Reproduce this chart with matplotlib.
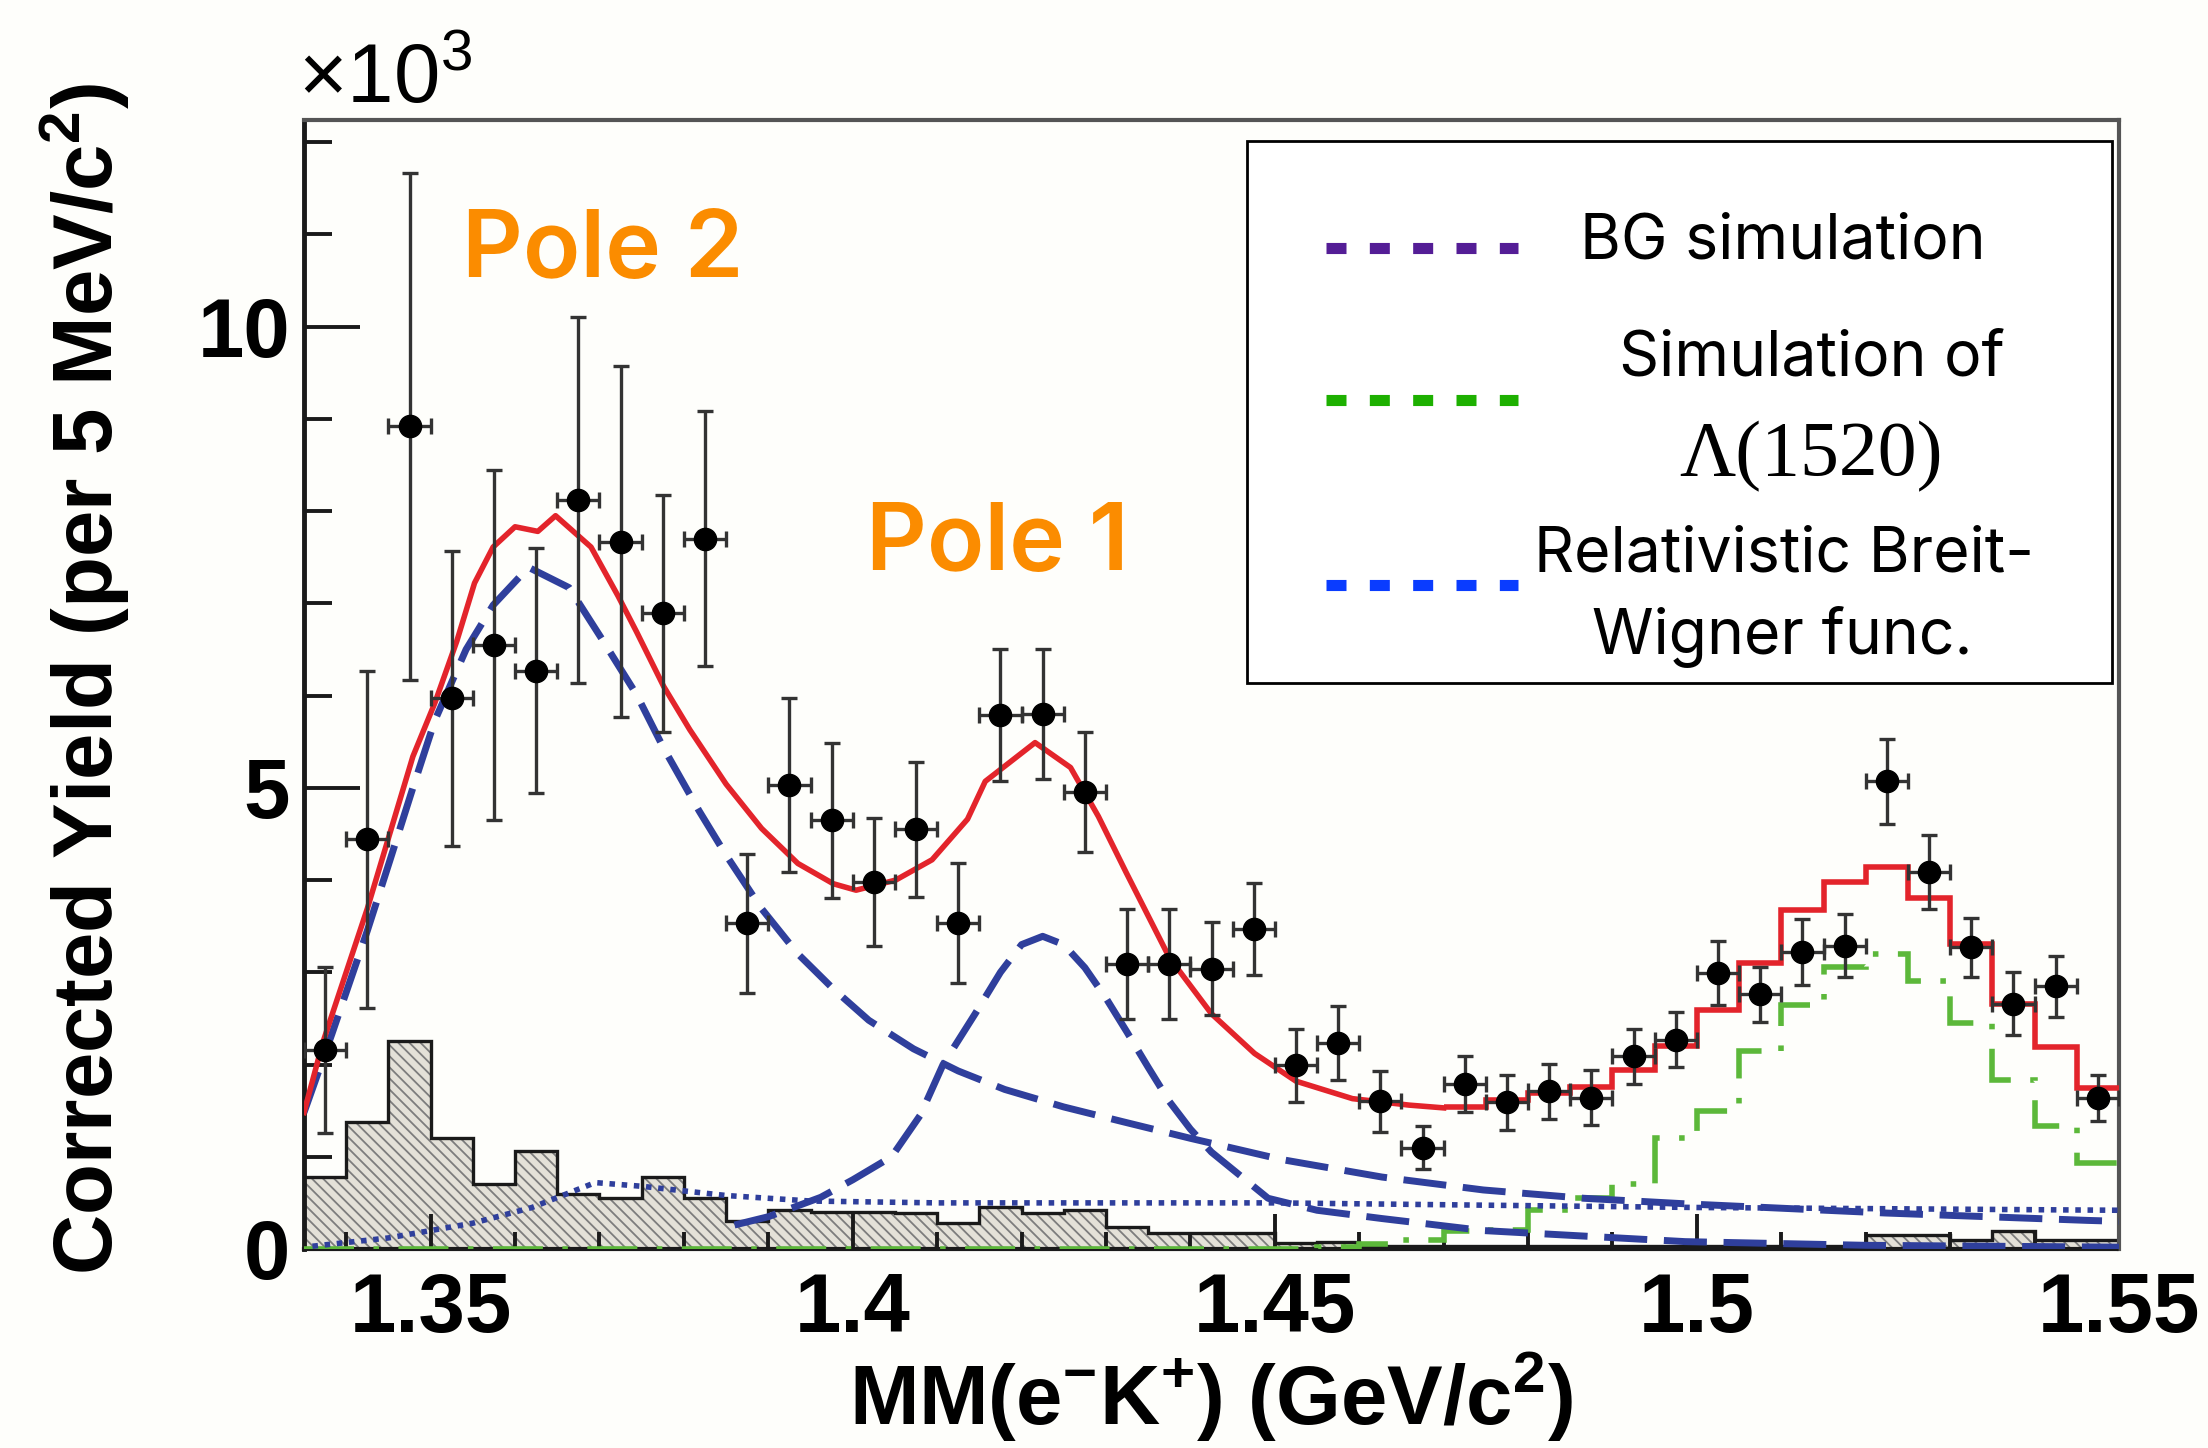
import numpy as np
import matplotlib
matplotlib.use("Agg")
import matplotlib.pyplot as plt
from matplotlib.patches import Rectangle

# binning (5 MeV bins)
bin_lo = 1.335
bin_width = 0.005
n_bins = 43

# measured yield (x10^3) per bin and its error
yield_vals = [2.16, 4.44, 8.92, 5.97, 6.55, 6.27, 8.12, 7.67, 6.89, 7.70,
              3.53, 5.03, 4.65, 3.98, 4.55, 3.53, 5.79, 5.80, 4.95, 3.09,
              3.09, 3.04, 3.47, 1.99, 2.23, 1.60, 1.10, 1.79, 1.59, 1.71,
              1.64, 2.09, 2.27, 2.99, 2.76, 3.22, 3.29, 5.07, 4.09, 3.27,
              2.66, 2.85, 1.64]
yield_err = [0.90, 1.83, 2.75, 1.60, 1.90, 1.33, 1.98, 1.90, 1.28, 1.38,
             0.75, 0.94, 0.84, 0.69, 0.73, 0.65, 0.72, 0.70, 0.65, 0.60,
             0.60, 0.50, 0.50, 0.40, 0.40, 0.33, 0.23, 0.30, 0.30, 0.30,
             0.30, 0.30, 0.30, 0.35, 0.30, 0.36, 0.34, 0.46, 0.40, 0.32,
             0.34, 0.33, 0.25]

# hatched background histogram
bg_hist = [0.78, 1.38, 2.25, 1.20, 0.71, 1.06, 0.60, 0.55, 0.78, 0.55,
           0.30, 0.42, 0.40, 0.40, 0.39, 0.28, 0.46, 0.39, 0.42, 0.24,
           0.17, 0.17, 0.17, 0.06, 0.08, 0.03, 0.03, 0.03, 0.03, 0.03,
           0.03, 0.03, 0.03, 0.03, 0.03, 0.03, 0.03, 0.15, 0.15, 0.10,
           0.20, 0.10, 0.10]

# Lambda(1520) simulation histogram
lam_hist = [0, 0, 0, 0, 0, 0, 0, 0, 0, 0,
            0, 0, 0, 0, 0, 0, 0, 0, 0, 0,
            0, 0, 0, 0.0, 0.02, 0.05, 0.10, 0.20, 0.21, 0.42,
            0.55, 0.71, 1.20, 1.50, 2.15, 2.65, 3.06, 3.20, 2.91, 2.45,
            1.83, 1.33, 0.93]

# total fit: smooth part then steps (bins 27..42)
total_x = [1.335, 1.3372, 1.3425, 1.3479, 1.3505, 1.3531, 1.3552, 1.3574,
           1.360, 1.3627, 1.3648, 1.369, 1.3722, 1.3744, 1.3776, 1.3807,
           1.385, 1.3892, 1.3935, 1.3977, 1.4004, 1.4051, 1.4094, 1.4136,
           1.4157, 1.4216, 1.4258, 1.4291, 1.4324, 1.4375, 1.4425, 1.4476,
           1.4525, 1.4592, 1.4659, 1.470]
total_y = [1.48, 2.23, 3.69, 5.34, 5.92, 6.59, 7.22, 7.61,
           7.83, 7.78, 7.95, 7.61, 7.08, 6.69, 6.10, 5.63,
           5.04, 4.56, 4.18, 3.96, 3.89, 4.00, 4.22, 4.66,
           5.07, 5.49, 5.22, 4.69, 4.08, 3.16, 2.55, 2.12,
           1.82, 1.63, 1.56, 1.53]
total_step_first_bin = 27
total_steps = [1.54, 1.62, 1.69, 1.76, 1.94, 2.20, 2.59, 3.10, 3.67, 3.98,
               4.14, 3.81, 3.31, 2.66, 2.19, 1.75]

# Breit-Wigner, pole 2
pole2_x = [1.335, 1.3383, 1.3425, 1.3452, 1.3479, 1.3505, 1.3542, 1.3574,
           1.3616, 1.3664, 1.3701, 1.3744, 1.3776, 1.3818, 1.385, 1.3892,
           1.3935, 1.3977, 1.4019, 1.4072, 1.4125, 1.418, 1.425, 1.432,
           1.440, 1.4508, 1.4627, 1.4747, 1.4866, 1.4986, 1.5105, 1.5224,
           1.5344, 1.5463, 1.55]
pole2_y = [1.48, 2.33, 3.45, 4.22, 5.00, 5.73, 6.50, 6.98,
           7.39, 7.17, 6.64, 6.01, 5.43, 4.75, 4.27, 3.69,
           3.20, 2.82, 2.48, 2.17, 1.93, 1.73, 1.54, 1.38,
           1.20, 0.97, 0.78, 0.64, 0.55, 0.49, 0.44, 0.39,
           0.35, 0.31, 0.30]

# Breit-Wigner, pole 1
pole1_x = [1.386, 1.390, 1.3962, 1.400, 1.4046, 1.408, 1.4107,
           1.4145, 1.4175, 1.420, 1.4225, 1.425, 1.4275, 1.430, 1.4325,
           1.435, 1.4375, 1.440, 1.4425, 1.4492, 1.455, 1.4627, 1.4747,
           1.4986, 1.520, 1.550]
pole1_y = [0.26, 0.35, 0.56, 0.75, 1.00, 1.45, 2.00,
           2.55, 3.00, 3.30, 3.39, 3.30, 3.05, 2.72, 2.35,
           1.97, 1.60, 1.30, 1.05, 0.55, 0.42, 0.33, 0.20,
           0.08, 0.04, 0.02]

# background simulation curve
bgsim_x = [1.336, 1.345, 1.355, 1.362, 1.3695, 1.375, 1.385, 1.395,
           1.410, 1.450, 1.500, 1.550]
bgsim_y = [0.03, 0.12, 0.28, 0.45, 0.72, 0.68, 0.58, 0.52,
           0.50, 0.50, 0.45, 0.42]

x_ticks = [1.35, 1.40, 1.45, 1.50, 1.55]
x_tick_labels = ["1.35", "1.4", "1.45", "1.5", "1.55"]
y_ticks = [0, 5, 10]

red = "#e3242b"
blue = "#2f3f9c"
green = "#5cb83a"
orange = "#fb8c00"
bg_color = "#fefefb"

edges = bin_lo + bin_width * np.arange(n_bins + 1)
centers = bin_lo + bin_width * (np.arange(n_bins) + 0.5)

plt.rcParams["mathtext.fontset"] = "custom"
plt.rcParams["mathtext.bf"] = "Liberation Sans:bold"
plt.rcParams["mathtext.rm"] = "Liberation Sans"
plt.rcParams["hatch.linewidth"] = 1.3

fig = plt.figure(figsize=(22.08, 14.48), dpi=100, facecolor=bg_color)
ax = fig.add_axes([304 / 2208, 1 - 1249 / 1448, 1815 / 2208, 1129 / 1448])
ax.set_facecolor(bg_color)

# background histogram (hatched)
ax.stairs(bg_hist, edges, fill=True, facecolor="#e4e1d8", edgecolor="#7d7d7d",
          hatch="\\\\\\", linewidth=0, zorder=1)
ax.stairs(bg_hist, edges, baseline=None, color="#1a1a1a", linewidth=2.4, zorder=2)

# Lambda(1520) simulation
ax.stairs(lam_hist, edges, baseline=None, color=green, linewidth=4,
          linestyle=(0, (9, 3.5, 1, 3.5)), zorder=3)

# BG simulation curve
ax.plot(bgsim_x, bgsim_y, color=blue, linewidth=4, linestyle=(0, (1, 1.2)), zorder=3)

# Breit-Wigner poles
ax.plot(pole2_x, pole2_y, color=blue, linewidth=5, dashes=(6.2, 2.4), zorder=4)
ax.plot(pole1_x, pole1_y, color=blue, linewidth=5, dashes=(6.2, 2.4), zorder=4)

# total fit
ax.plot(total_x, total_y, color=red, linewidth=4, zorder=5)
ax.stairs(total_steps, edges[total_step_first_bin:], baseline=None, color=red,
          linewidth=4, zorder=5)

# data
ax.errorbar(centers, yield_vals, xerr=bin_width / 2, yerr=yield_err, fmt="o",
            color="black", markersize=16, ecolor="#333333", elinewidth=2.4,
            capsize=6, capthick=2.4, zorder=6)

ax.set_xlim(1.335, 1.55)
ax.set_ylim(0, 12.24)

ax.set_xticks(x_ticks)
ax.set_xticklabels(x_tick_labels)
ax.set_xticks(np.arange(1.34, 1.55, 0.01), minor=True)
ax.set_yticks(y_ticks)
ax.set_yticks(np.arange(0, 13, 1), minor=True)
ax.tick_params(axis="both", which="both", direction="in", width=2.8, color="#1a1a1a")
ax.tick_params(axis="y", which="major", length=40, pad=10)
ax.tick_params(axis="y", which="minor", length=20)
ax.tick_params(axis="x", which="major", length=25, pad=16)
ax.tick_params(axis="x", which="minor", length=12)
for lab in ax.get_xticklabels() + ax.get_yticklabels():
    lab.set_fontfamily("Liberation Sans")
    lab.set_fontweight("bold")
    lab.set_fontsize(60)

ax.spines["left"].set_linewidth(3.5)
ax.spines["left"].set_color("#1a1a1a")
ax.spines["bottom"].set_linewidth(3)
ax.spines["bottom"].set_linestyle((0, (1, 1)))
ax.spines["bottom"].set_color("#1a1a1a")
for s in ["top", "right"]:
    ax.spines[s].set_linewidth(3)
    ax.spines[s].set_color("#555555")

# axis titles
fig.text(85 / 2208, 1 - 679 / 1448, r"Corrected Yield (per 5 MeV/c$^{\mathbf{2}}$)",
         rotation=90, ha="center", va="center", fontsize=60, fontweight="bold",
         family="Liberation Sans")
fig.text(1211 / 2208, 1 - 1425 / 1448,
         r"MM(e$^{\mathbf{-}}$K$^{\mathbf{+}}$) (GeV/c$^{\mathbf{2}}$)",
         ha="center", va="baseline", fontsize=60, fontweight="bold",
         family="Liberation Sans")
fig.text(298 / 2208, 1 - 103 / 1448, r"$\times$10$^{\mathrm{3}}$", ha="left",
         va="baseline", fontsize=60, family="Liberation Sans")

# pole annotations
ax.text(0.0871, 0.861, "Pole 2", transform=ax.transAxes, fontsize=68,
        color=orange, fontweight="semibold", family="Inter", va="baseline")
ax.text(0.3096, 0.6014, "Pole 1", transform=ax.transAxes, fontsize=68,
        color=orange, fontweight="semibold", family="Inter", va="baseline")

# legend drawn by hand
ax.add_patch(Rectangle((0.5196, 0.5013), 0.4765, 0.4801, transform=ax.transAxes,
                       facecolor="white", edgecolor="black", linewidth=2, zorder=8))
leg_lines = [(0.8866, "#541d96"), (0.752, "#1db000"), (0.5881, "#0a3cff")]
for ly, lc in leg_lines:
    ax.plot([0.5631, 0.6689], [ly, ly], transform=ax.transAxes, color=lc,
            linewidth=8, dashes=(1.8, 2.1), solid_capstyle="butt",
            dash_capstyle="butt", zorder=9)
leg_font = dict(transform=ax.transAxes, ha="center", va="baseline", fontsize=45,
                family="Inter", zorder=9)
ax.text(0.8149, 0.8769, "BG simulation", **leg_font)
ax.text(0.8309, 0.7741, "Simulation of", **leg_font)
ax.text(0.8303, 0.6856, "Λ(1520)", transform=ax.transAxes, ha="center",
        va="baseline", fontsize=56, family="Liberation Serif", zorder=9)
ax.text(0.8154, 0.6005, "Relativistic Breit-", **leg_font)
ax.text(0.8143, 0.5279, "Wigner func.", **leg_font)

fig.savefig("out.png", dpi=100, facecolor=bg_color)
